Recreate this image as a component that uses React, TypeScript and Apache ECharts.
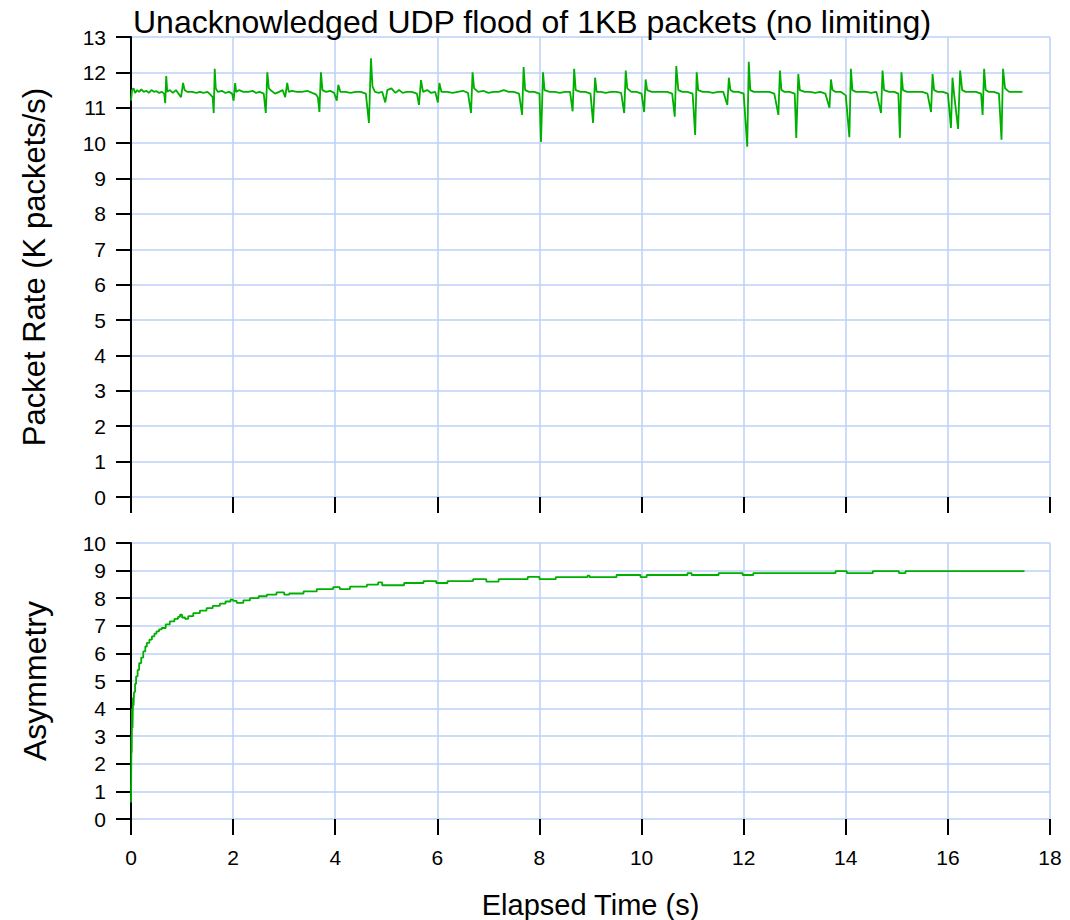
import React, { useEffect, useRef } from "react";
import * as echarts from "echarts";

const chartTitle = "Unacknowledged UDP flood of 1KB packets (no limiting)";
const rateAxisName = "Packet Rate (K packets/s)";
const asymAxisName = "Asymmetry";
const timeAxisName = "Elapsed Time (s)";

// Packet rate (K packets/s) vs elapsed time (s)
const packetRate: [number, number][] = [
  [0.0, 11.2], [0.02, 11.5], [0.05, 11.55], [0.08, 11.42], [0.12, 11.5], [0.16, 11.45], [0.2, 11.52], [0.25, 11.45],
  [0.3, 11.48], [0.35, 11.42], [0.4, 11.5], [0.45, 11.45], [0.5, 11.47], [0.55, 11.42], [0.6, 11.45], [0.65, 11.4],
  [0.67, 11.13], [0.69, 11.9], [0.71, 11.45], [0.76, 11.5], [0.82, 11.42], [0.88, 11.5], [0.93, 11.4], [0.98, 11.3],
  [1.02, 11.7], [1.05, 11.5], [1.1, 11.45], [1.2, 11.45], [1.28, 11.42], [1.35, 11.45], [1.42, 11.42], [1.5, 11.45],
  [1.55, 11.38], [1.6, 11.3], [1.62, 10.85], [1.64, 12.1], [1.66, 11.55], [1.7, 11.45], [1.78, 11.48], [1.85, 11.42],
  [1.92, 11.45], [1.98, 11.4], [2.01, 11.2], [2.04, 11.7], [2.06, 11.45], [2.12, 11.5], [2.2, 11.45], [2.3, 11.45],
  [2.38, 11.48], [2.45, 11.42], [2.52, 11.45], [2.6, 11.4], [2.64, 10.85], [2.67, 12.0], [2.7, 11.55], [2.75, 11.48],
  [2.82, 11.4], [2.9, 11.45], [2.97, 11.5], [3.02, 11.3], [3.06, 11.7], [3.09, 11.45], [3.15, 11.48], [3.25, 11.45],
  [3.35, 11.45], [3.45, 11.48], [3.55, 11.42], [3.62, 11.38], [3.66, 11.3], [3.69, 10.88], [3.72, 12.0], [3.75, 11.5],
  [3.82, 11.45], [3.9, 11.48], [3.98, 11.42], [4.03, 11.2], [4.06, 11.65], [4.1, 11.45], [4.2, 11.45], [4.3, 11.42],
  [4.4, 11.45], [4.5, 11.45], [4.6, 11.4], [4.66, 10.57], [4.7, 12.4], [4.73, 11.6], [4.78, 11.45], [4.85, 11.42],
  [4.92, 11.45], [4.98, 11.15], [5.02, 11.5], [5.1, 11.55], [5.18, 11.42], [5.25, 11.5], [5.32, 11.42], [5.4, 11.45],
  [5.5, 11.45], [5.6, 11.4], [5.64, 11.08], [5.68, 11.78], [5.72, 11.45], [5.8, 11.5], [5.88, 11.42], [5.96, 11.45],
  [6.01, 11.15], [6.04, 11.7], [6.08, 11.45], [6.2, 11.45], [6.3, 11.42], [6.4, 11.45], [6.5, 11.48], [6.6, 11.42],
  [6.66, 10.85], [6.69, 12.0], [6.72, 11.55], [6.8, 11.45], [6.9, 11.48], [7.0, 11.42], [7.1, 11.45], [7.2, 11.45],
  [7.3, 11.5], [7.4, 11.45], [7.5, 11.45], [7.6, 11.4], [7.66, 10.8], [7.69, 12.15], [7.72, 11.5], [7.8, 11.45],
  [7.9, 11.45], [8.0, 11.4], [8.03, 10.03], [8.07, 12.0], [8.1, 11.5], [8.2, 11.45], [8.3, 11.45], [8.4, 11.42],
  [8.5, 11.45], [8.6, 11.45], [8.65, 10.9], [8.68, 12.1], [8.71, 11.5], [8.8, 11.45], [8.9, 11.45], [9.0, 11.4],
  [9.05, 10.57], [9.09, 11.85], [9.12, 11.45], [9.2, 11.45], [9.3, 11.42], [9.4, 11.45], [9.5, 11.45], [9.6, 11.42],
  [9.66, 10.85], [9.69, 12.05], [9.72, 11.55], [9.8, 11.45], [9.9, 11.45], [10.0, 11.4], [10.05, 10.88], [10.08, 11.8],
  [10.11, 11.5], [10.2, 11.45], [10.3, 11.45], [10.4, 11.45], [10.5, 11.45], [10.6, 11.4], [10.65, 10.75], [10.68, 12.18],
  [10.72, 11.5], [10.8, 11.45], [10.9, 11.45], [11.0, 11.4], [11.05, 10.23], [11.08, 12.0], [11.11, 11.5], [11.2, 11.45],
  [11.3, 11.45], [11.4, 11.42], [11.5, 11.45], [11.6, 11.45], [11.68, 11.08], [11.71, 11.85], [11.74, 11.5], [11.8, 11.45],
  [11.9, 11.45], [12.0, 11.4], [12.07, 9.9], [12.1, 12.3], [12.13, 11.5], [12.2, 11.45], [12.3, 11.45], [12.4, 11.45],
  [12.5, 11.45], [12.6, 11.4], [12.68, 10.8], [12.71, 12.05], [12.74, 11.5], [12.8, 11.45], [12.9, 11.45], [13.0, 11.4],
  [13.03, 10.15], [13.07, 11.95], [13.1, 11.5], [13.2, 11.45], [13.3, 11.45], [13.4, 11.42], [13.5, 11.45], [13.6, 11.4],
  [13.68, 11.0], [13.71, 11.8], [13.74, 11.5], [13.8, 11.45], [13.9, 11.45], [14.0, 11.35], [14.07, 10.17], [14.1, 12.1],
  [14.13, 11.5], [14.2, 11.45], [14.3, 11.45], [14.4, 11.45], [14.5, 11.42], [14.6, 11.45], [14.69, 10.85], [14.72, 12.05],
  [14.75, 11.5], [14.85, 11.45], [14.95, 11.45], [15.03, 11.4], [15.06, 10.15], [15.09, 12.0], [15.12, 11.5], [15.2, 11.45],
  [15.3, 11.45], [15.4, 11.45], [15.5, 11.45], [15.6, 11.4], [15.67, 10.88], [15.7, 11.95], [15.73, 11.5], [15.8, 11.45],
  [15.9, 11.45], [16.0, 11.4], [16.06, 10.43], [16.09, 11.85], [16.12, 11.4], [16.2, 10.4], [16.24, 12.05], [16.28, 11.5],
  [16.35, 11.45], [16.45, 11.45], [16.55, 11.45], [16.65, 11.4], [16.68, 10.8], [16.71, 12.1], [16.74, 11.5], [16.8, 11.45],
  [16.9, 11.45], [17.0, 11.4], [17.05, 10.1], [17.08, 12.1], [17.12, 11.55], [17.2, 11.45], [17.3, 11.45], [17.46, 11.45],
];

// Asymmetry vs elapsed time (s), step-wise
const asymmetry: [number, number][] = [
  [0, 0.6], [0.01, 3.0], [0.015, 2.4], [0.02, 4.0], [0.03, 3.3], [0.04, 4.4], [0.05, 4.1], [0.06, 4.6], [0.08, 4.9],
  [0.1, 5.17], [0.13, 5.4], [0.16, 5.65], [0.2, 5.85], [0.24, 6.07], [0.28, 6.25], [0.31, 6.38], [0.36, 6.5],
  [0.41, 6.62], [0.46, 6.72], [0.5, 6.8], [0.55, 6.87], [0.6, 6.92], [0.68, 7.05], [0.76, 7.16], [0.85, 7.25],
  [0.92, 7.32], [0.96, 7.4], [1.0, 7.3], [1.06, 7.25], [1.12, 7.35], [1.22, 7.46], [1.35, 7.55], [1.48, 7.64],
  [1.6, 7.72], [1.74, 7.8], [1.85, 7.88], [1.95, 7.95], [2.0, 7.9], [2.07, 7.83], [2.2, 7.92], [2.33, 8.0],
  [2.5, 8.07], [2.66, 8.13], [2.85, 8.21], [3.0, 8.13], [3.1, 8.17], [3.38, 8.25], [3.64, 8.33], [3.96, 8.4],
  [4.09, 8.33], [4.29, 8.42], [4.62, 8.49], [4.84, 8.57], [4.92, 8.47], [5.35, 8.55], [5.73, 8.62], [5.98, 8.55],
  [6.2, 8.62], [6.7, 8.69], [6.96, 8.6], [7.2, 8.69], [7.77, 8.77], [8.0, 8.69], [8.32, 8.76], [8.94, 8.82],
  [8.98, 8.76], [9.51, 8.84], [9.98, 8.76], [10.1, 8.84], [10.9, 8.91], [10.98, 8.84], [11.51, 8.91], [11.98, 8.84],
  [12.19, 8.91], [13.8, 8.98], [14.02, 8.91], [14.53, 8.98], [15.04, 8.91], [15.17, 8.98], [17.5, 8.98],
];

const FONT = "'Liberation Sans', Arial, sans-serif";
const GRID_COLOR = "#bdd0f6";
const LINE_COLOR = "#00b000";

export default function App() {
  const ref = useRef<HTMLDivElement>(null);
  useEffect(() => {
    if (!ref.current) return;
    const chart = echarts.init(ref.current, null, { renderer: "svg" });
    const splitLine = { show: true, lineStyle: { color: GRID_COLOR, width: 1.5 } };
    const axisLabel = { color: "#000", fontFamily: FONT, fontSize: 21 };
    const tick = { show: true, length: 16, lineStyle: { color: "#000", width: 2 } };
    chart.setOption({
      animation: false,
      backgroundColor: "#fff",
      title: {
        text: chartTitle,
        left: 128,
        top: 1,
        textStyle: { fontFamily: FONT, fontSize: 32, fontWeight: "normal", color: "#000" },
      },
      grid: [
        { left: 131, top: 37, width: 919, height: 460, containLabel: false },
        { left: 131, top: 543, width: 919, height: 276, containLabel: false },
      ],
      xAxis: [
        {
          type: "value", gridIndex: 0, min: 0, max: 18, interval: 2,
          axisLine: { show: false }, axisTick: tick, axisLabel: { show: false }, splitLine,
        },
        {
          type: "value", gridIndex: 1, min: 0, max: 18, interval: 2,
          axisLine: { show: false }, axisTick: tick,
          axisLabel: { ...axisLabel, margin: 28 }, splitLine,
          name: timeAxisName, nameLocation: "middle", nameGap: 71,
          nameTextStyle: { fontFamily: FONT, fontSize: 29, color: "#000" },
        },
      ],
      yAxis: [
        {
          type: "value", gridIndex: 0, min: 0, max: 13, interval: 1,
          axisLine: { show: true, lineStyle: { color: "#000", width: 2 } },
          axisTick: { ...tick, length: 15 }, axisLabel: { ...axisLabel, margin: 25 }, splitLine,
          name: rateAxisName, nameLocation: "middle", nameGap: 81,
          nameTextStyle: { fontFamily: FONT, fontSize: 31, color: "#000" },
        },
        {
          type: "value", gridIndex: 1, min: 0, max: 10, interval: 1,
          axisLine: { show: true, lineStyle: { color: "#000", width: 2 } },
          axisTick: { ...tick, length: 15 }, axisLabel: { ...axisLabel, margin: 25 }, splitLine,
          name: asymAxisName, nameLocation: "middle", nameGap: 80,
          nameTextStyle: { fontFamily: FONT, fontSize: 32, color: "#000" },
        },
      ],
      series: [
        {
          type: "line", xAxisIndex: 0, yAxisIndex: 0, data: packetRate, showSymbol: false,
          lineStyle: { color: LINE_COLOR, width: 1.8 }, z: 5,
        },
        {
          type: "line", xAxisIndex: 1, yAxisIndex: 1, data: asymmetry, showSymbol: false, step: "end",
          lineStyle: { color: LINE_COLOR, width: 1.8 }, z: 5,
        },
      ],
    });
    return () => chart.dispose();
  }, []);
  return <div ref={ref} style={{ position: "absolute", left: 0, top: 0, width: 1070, height: 920 }} />;
}
